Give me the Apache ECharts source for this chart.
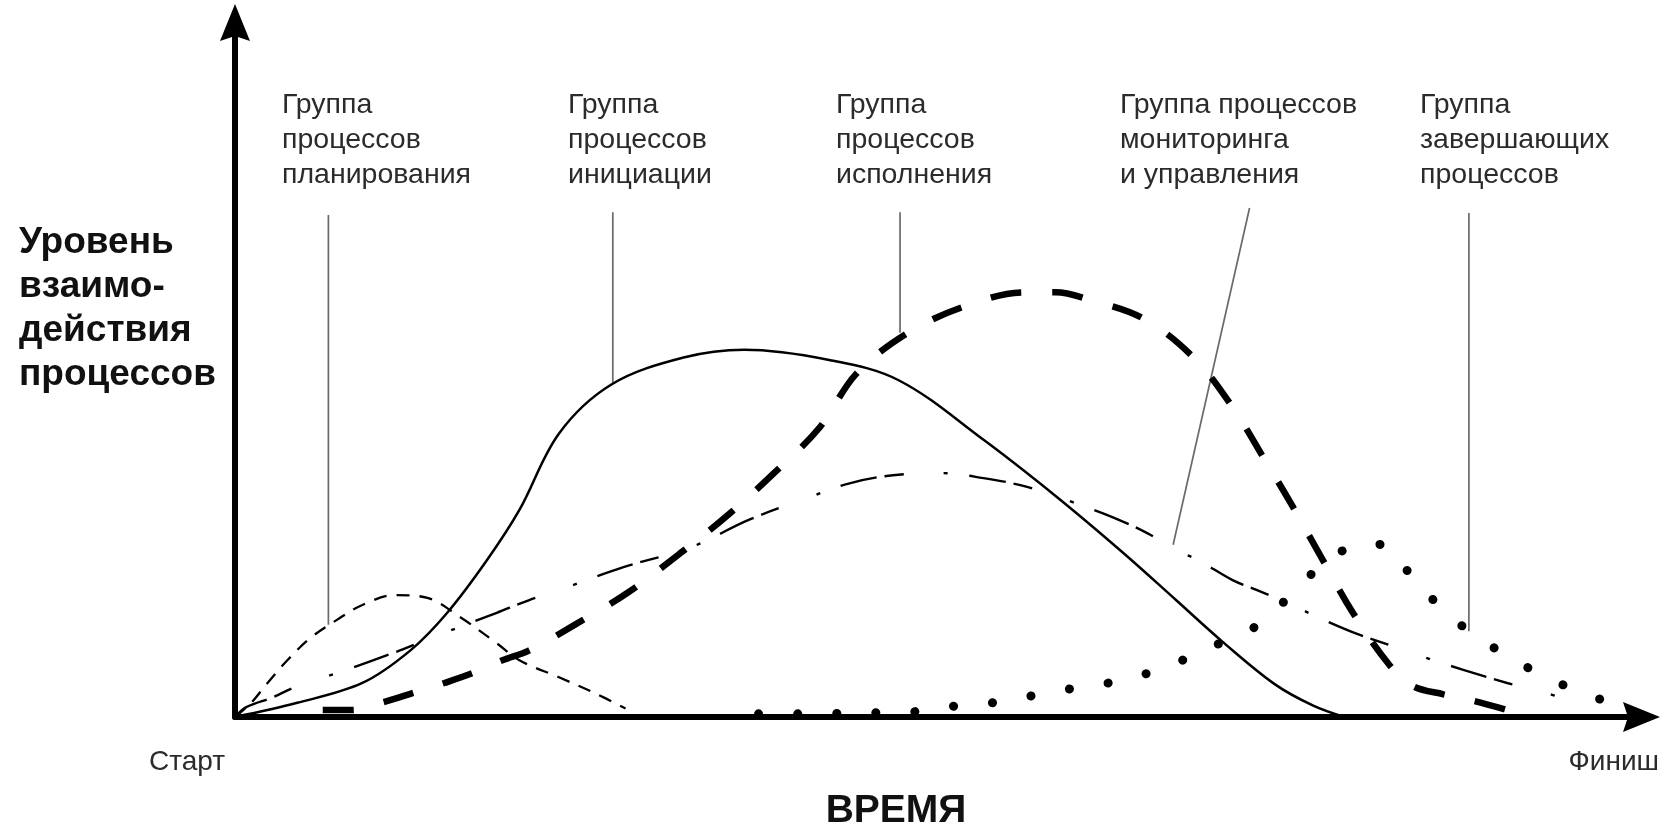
<!DOCTYPE html>
<html>
<head>
<meta charset="utf-8">
<script src="https://cdn.jsdelivr.net/npm/echarts@6/dist/echarts.min.js"></script>
<style>
html,body{margin:0;padding:0;background:#fff;}
#chart{width:1662px;height:824px;}
</style>
</head>
<body>
<div id="chart"></div>
<script>
// Time axis: 0 = Старт. Level axis: 0 = axis baseline.
const planning = [[0,0],[1.1,1.9],[2.3,4.8],[3.7,8],[5.3,11.1],[7.2,13.7],[9,15.8],[11.3,17.2],[13.6,16.8],[15.9,14.1],[18.5,10.4],[20.1,8],[22.9,5.6],[25.4,3.4],[27.6,1.2]];
const initiation = [[0,0],[4.4,2],[9,4.8],[12.4,9.4],[15,14.7],[17.8,22.1],[20.1,29.2],[22.9,40],[26.6,46.9],[31.7,50.7],[36,51.8],[41.9,50.4],[46.9,47.5],[52.9,39.1],[58.1,31],[62.8,23.1],[66.5,16.5],[69.8,10.6],[73.5,4.6],[76.2,1.6],[78.4,0]];
const execution = [[6.2,1],[8.3,1],[10.5,2.1],[12.6,3.4],[14.8,4.8],[16.8,6.2],[18.9,8],[20.8,9.4],[24,13],[27.8,17.6],[31.4,23],[34.9,28.6],[38.2,34.6],[41.3,40.8],[43.9,48.4],[47.4,54],[51.4,57.8],[55.8,59.9],[58,59.9],[60.3,58.9],[64.2,56.2],[67.8,50.6],[70.5,43.7],[72.8,36.2],[74.6,30.2],[76.8,22.4],[79,14.7],[81.6,7.3],[83.2,4.4],[85.4,3.2],[87.5,2.3],[89.9,1]];
const monitoring = [[0,0],[0.8,1.4],[2.7,2.8],[4.1,4.1],[7.8,6.6],[11.4,9.2],[13.8,11.1],[18.5,14.7],[20.8,16.5],[22.9,17.9],[27.4,21.1],[32.3,24],[36.3,27.8],[40.6,31],[43.5,33],[46.5,34.1],[50,34.4],[52.9,33.7],[55.5,32.7],[57.8,31.3],[59.2,30.3],[62,28.2],[64.5,25.9],[66.4,23.6],[68,22.2],[70.5,19.3],[72.1,18],[74.6,15.9],[76.5,14.1],[79.2,11.8],[81.5,10.2],[83.4,8.9],[85.3,7.6],[88.2,5.8],[89.9,4.8],[92.6,3.4],[94.1,2.5]];
const closing = [[37,0.45],[39.8,0.45],[42.5,0.5],[45.4,0.6],[48.3,0.8],[51.1,1.6],[53.9,2.1],[56.6,3.1],[59.4,4.1],[62,4.9],[64.7,6.3],[67.3,8.3],[69.8,10.6],[72.4,13.1],[74.5,17],[76.5,20.9],[78.8,24],[80.2,24.4],[81.5,24],[83.2,19.7],[85.1,15.7],[87.2,12.1],[89.6,9],[92,6.3],[94.6,3.9],[97.2,2]];

// Leader lines from the group labels down to the curves
const leaderPlanning = [[6.6,70.8],[6.6,13.0]];
const leaderInitiation = [[26.7,71.2],[26.7,47.1]];
const leaderExecution = [[47.0,71.2],[47.0,54.2]];
const leaderMonitoring = [[71.7,71.8],[66.3,24.3]];
const leaderClosing = [[87.2,71.1],[87.2,12.1]];

const groupLabels = [
  'Группа\nпроцессов\nпланирования',
  'Группа\nпроцессов\nинициации',
  'Группа\nпроцессов\nисполнения',
  'Группа процессов\nмониторинга\nи управления',
  'Группа\nзавершающих\nпроцессов'
];
const yTitle = 'Уровень\nвзаимо-\nдействия\nпроцессов';
const xTitle = 'ВРЕМЯ';
const xStart = 'Старт';
const xEnd = 'Финиш';

const labelLeft = [282, 568, 836, 1120, 1420];
const FONT = '"Liberation Sans", Arial, Helvetica, sans-serif';

const chart = echarts.init(document.getElementById('chart'), null, {renderer: 'canvas'});

function curve(data, style) {
  return {
    type: 'line', data: data, symbol: 'none', smooth: 0.35, silent: true,
    lineStyle: Object.assign({color: '#000'}, style), z: 3
  };
}
function leader(data) {
  return {
    type: 'line', data: data, symbol: 'none', silent: true,
    lineStyle: {color: '#6a6a6a', width: 1.7}, z: 2
  };
}

const axisLineCommon = {
  show: true,
  symbol: ['none', 'path://M15,0 L30,37 L15,32 L0,37 Z'],
  symbolSize: [30, 37],
  symbolOffset: [0, -9.5],
  lineStyle: {color: '#000', width: 6}
};

const graphics = groupLabels.map((t, i) => ({
  type: 'text', x: labelLeft[i], y: 88, silent: true,
  style: {text: t, fontSize: 28.5, fontFamily: FONT, fill: '#2b2b2b', lineHeight: 35, align: 'left', verticalAlign: 'top'}
}));
graphics.push({
  type: 'text', x: 19, y: 221, silent: true,
  style: {text: yTitle, fontSize: 37, fontWeight: 'bold', fontFamily: FONT, fill: '#111', lineHeight: 44, align: 'left', verticalAlign: 'top'}
});
graphics.push({
  type: 'text', x: 896, y: 811, silent: true,
  style: {text: xTitle, fontSize: 39, fontWeight: 'bold', fontFamily: FONT, fill: '#111', align: 'center', verticalAlign: 'middle'}
});
graphics.push({
  type: 'text', x: 149, y: 762, silent: true,
  style: {text: xStart, fontSize: 28, fontFamily: FONT, fill: '#2b2b2b', align: 'left', verticalAlign: 'middle'}
});
graphics.push({
  type: 'text', x: 1659, y: 762, silent: true,
  style: {text: xEnd, fontSize: 28, fontFamily: FONT, fill: '#2b2b2b', align: 'right', verticalAlign: 'middle'}
});

chart.setOption({
  animation: false,
  backgroundColor: '#fff',
  grid: {left: 235, right: 11, top: 13, bottom: 107, containLabel: false},
  xAxis: {
    type: 'value', min: 0, max: 100.07,
    axisLine: axisLineCommon, axisTick: {show: false}, axisLabel: {show: false}, splitLine: {show: false}
  },
  yAxis: {
    type: 'value', min: 0, max: 99.3,
    axisLine: axisLineCommon, axisTick: {show: false}, axisLabel: {show: false}, splitLine: {show: false}
  },
  series: [
    leader(leaderPlanning), leader(leaderInitiation), leader(leaderExecution), leader(leaderMonitoring), leader(leaderClosing),
    curve(planning, {width: 2.3, type: [13, 10]}),
    curve(initiation, {width: 2.5, type: 'solid'}),
    curve(monitoring, {width: 2.4, type: [37, 8, 19, 40, 4, 22]}),
    curve(closing, {width: 9, type: [0.1, 39], cap: 'round'}),
    curve(execution, {width: 6.5, type: [31, 31]})
  ],
  graphic: graphics
});
</script>
</body>
</html>
